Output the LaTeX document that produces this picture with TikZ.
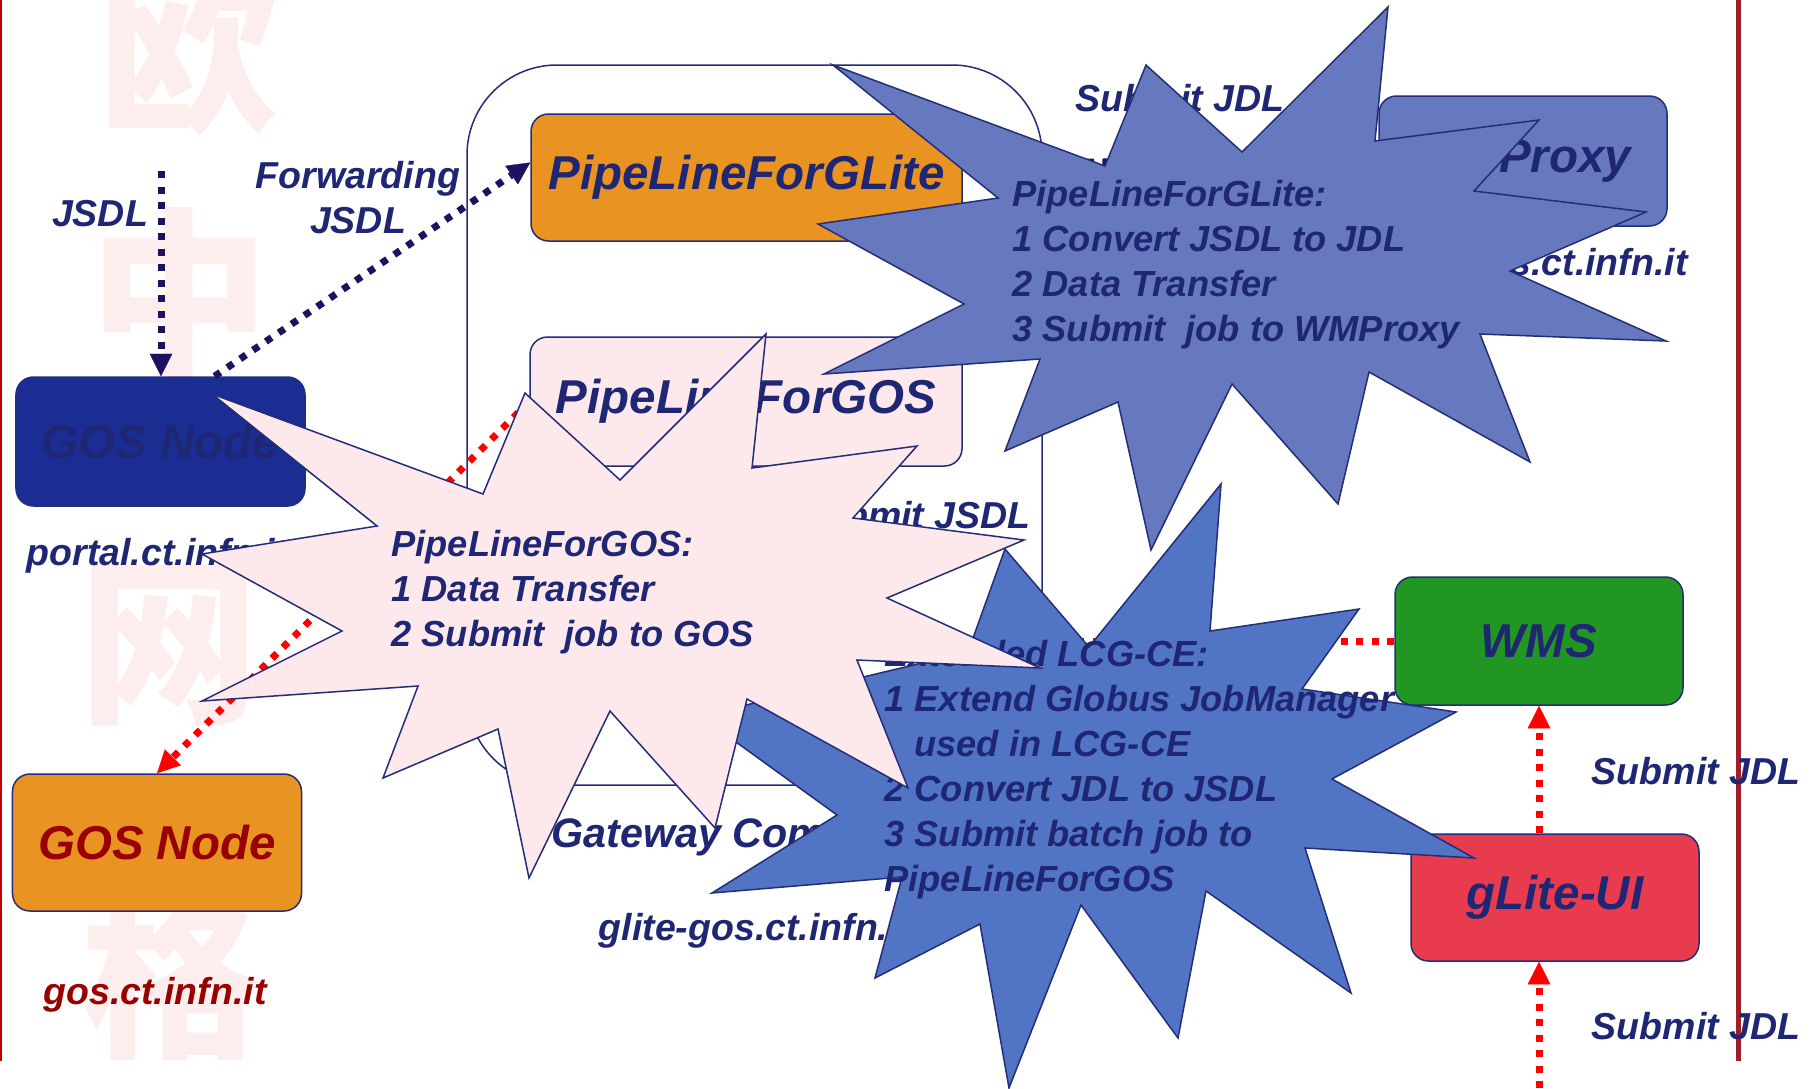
\documentclass[tikz,border=0pt]{standalone}
\usepackage{fontspec}
\setmainfont{Liberation Sans}
\newfontfamily\cjkfont{Noto Sans CJK SC}
\usetikzlibrary{arrows.meta,calc}
\definecolor{navy}{RGB}{31,38,115}
\definecolor{boxline}{RGB}{35,45,120}
\definecolor{flownavy}{RGB}{30,18,96}
\definecolor{gosblue}{RGB}{27,44,147}
\definecolor{orangeA}{RGB}{232,147,34}
\definecolor{pinkA}{RGB}{253,232,236}
\definecolor{starblue}{RGB}{102,121,190}
\definecolor{extblue}{RGB}{82,116,196}
\definecolor{greenA}{RGB}{34,150,34}
\definecolor{uired}{RGB}{232,60,78}
\definecolor{darkred}{RGB}{153,0,0}
\definecolor{wmpink}{RGB}{253,237,237}
\definecolor{framered}{RGB}{160,30,40}

\begin{document}
\begin{tikzpicture}[x=0.4pt,y=-0.4pt,
        every node/.append style={text=navy,inner sep=0pt},
        box/.style={draw=boxline,line width=0.6pt,rounded corners=7pt,
            font=\bfseries\itshape\fontsize{19}{22}\selectfont},
        lbl/.style={font=\bfseries\itshape\fontsize{15}{18}\selectfont},
        note/.style={align=left,anchor=west,
            font=\bfseries\itshape\fontsize{14.5}{18}\selectfont},
        burst/.style={draw=boxline,line width=0.6pt,line join=miter},
        watermark/.style={text=wmpink,font=\cjkfont\bfseries\fontsize{72}{72}\selectfont},
        navyflow/.style={draw=flownavy,line width=2.8pt,dash pattern=on 2.8pt off 3.4pt,
            -{Triangle[length=9pt,width=9pt,line width=0.1pt]}},
        redflow/.style={navyflow,draw=red}
    ]
        \fill[white] (0,0) rectangle (1814,1088);
        \useasboundingbox (0,0) rectangle (1814,1088);

        \node[watermark] (wmA) at (190,50)  {欧};
        \node[watermark] (wmB) at (180,293) {中};
        \node[watermark] (wmC) at (170,646) {网};
        \node[watermark] (wmD) at (172,975) {格};
        \draw[red!75!black,line width=0.8pt] (1,0) -- (1,1061);
        \draw[framered,line width=2pt] (1738,0) -- (1738,1061);

        \node[draw=boxline,line width=0.6pt,rounded corners=36pt,
            minimum width=230pt,minimum height=288pt] (gw) at (754.5,425) {};

        \node[box,fill=gosblue,minimum width=115.6pt,minimum height=51.6pt] (gosA) at (160.5,441.5) {GOS Node};
        \node[box,fill=orangeA,text=darkred,minimum width=115.6pt,minimum height=54.8pt] (gosB) at (157,842.5) {GOS Node};
        \node[box,fill=orangeA,minimum width=172.4pt,minimum height=50.8pt] (pglite) at (746.5,177.5) {PipeLineForGLite};
        \node[box,fill=pinkA,minimum width=172.8pt,minimum height=51.6pt] (pgos) at (746,401.5) {PipeLineForGOS};
        \node[box,fill=starblue,minimum width=115.2pt,minimum height=52pt] (wmproxy) at (1523,161) {WMProxy};
        \node[box,fill=greenA,minimum width=115.2pt,minimum height=51.2pt] (wms) at (1539,641) {WMS};
        \node[box,fill=uired,minimum width=115.2pt,minimum height=50.8pt] (ui) at (1555,897.5) {gLite-UI};

        \node[lbl] (jsdl) at (100,214) {JSDL};
        \node[lbl,align=center] (fwd) at (358,198) {Forwarding\\JSDL};
        \node[lbl] (portal) at (157,556) {portal.ct.infn.it};
        \node[lbl,text=darkred] (gosname) at (155,995) {gos.ct.infn.it};
        \node[lbl] (subjdl) at (1180,98) {Submit JDL};
        \node[lbl] (wmsname) at (1523,266) {glite-wms.ct.infn.it};
        \node[lbl] (subjsdl) at (914,515) {Submit JSDL};
        \node[lbl,anchor=west,font=\bfseries\itshape\fontsize{16.5}{19}\selectfont] (gwname) at (551,837) {Gateway Computer};
        \node[lbl] (gwhost) at (755,931) {glite-gos.ct.infn.it};
        \node[lbl] (subjdlA) at (1696,771) {Submit JDL};
        \node[lbl] (subjdlB) at (1696,1026) {Submit JDL};

        \coordinate (jsdlin) at (161,171);
        \coordinate (uiin) at (1539,1088);
        \draw[navyflow] (jsdlin) -- (jsdlin |- gosA.north);
        \draw[navyflow] ($(gosA.north)+(54,0)$) -- ($(pglite.west)+(0,-15)$);
        \draw[navyflow] ($(pglite.east)+(0,-15)$) -- (wmproxy.west);
        \draw[redflow] (pgos.west) -- (gosB.north);
        \draw[redflow] (wms.west) -- (gw.east |- wms.west);
        \draw[redflow] (ui.north -| wms.south) -- (wms.south);
        \draw[redflow] (uiin) -- (uiin |- ui.south);

        \draw[burst,fill=starblue] (833,65) -- (1105,166) -- (1146,65) -- (1242,152) -- (1388,7)
            -- (1375,141) -- (1539,120) -- (1474,191) -- (1646,212) -- (1510,271) -- (1666,341)
            -- (1480,334) -- (1530,462) -- (1369,372) -- (1338,504) -- (1232,384) -- (1151,550)
            -- (1118,402) -- (1005,451) -- (1040,359) -- (824,374) -- (964,304) -- (818,224)
            -- (998,198) -- cycle;
        \node[note] (glitenote) at (1012,264.5) {PipeLineForGLite:\\1 Convert JSDL to JDL\\2 Data Transfer\\3 Submit\ \ job to WMProxy};

        \draw[burst,fill=extblue] (1221,484) -- (1210,631) -- (1359,609) -- (1302,689) -- (1456,712)
            -- (1332,779) -- (1474,858) -- (1305,848) -- (1351,993) -- (1206,891) -- (1178,1038)
            -- (1081,905) -- (1009,1088) -- (980,924) -- (875,978) -- (902,877) -- (712,893)
            -- (837,815) -- (700,716) -- (968,652) -- (1005,549) -- (1089,647) -- cycle;
        \node[note] (extnote) at (884,770) {Extended LCG-CE:\\1 Extend Globus JobManager\\\hspace*{12pt}used in LCG-CE\\2 Convert JDL to JSDL\\3 Submit batch job to\\PipeLineForGOS};

        \draw[burst,fill=pinkA] (212,394) -- (483,494) -- (525,393) -- (620,480) -- (766,334)
            -- (752,468) -- (917,446) -- (853,518) -- (1024,540) -- (887,598) -- (1040,668)
            -- (857,660) -- (908,788) -- (747,699) -- (715,828) -- (610,711) -- (529,878)
            -- (498,729) -- (383,778) -- (418,686) -- (202,701) -- (342,631) -- (202,554)
            -- (377,526) -- cycle;
        \node[note] (gosnote) at (391,592) {PipeLineForGOS:\\1 Data Transfer\\2 Submit\ \ job to GOS};
    \end{tikzpicture}
\end{document}
